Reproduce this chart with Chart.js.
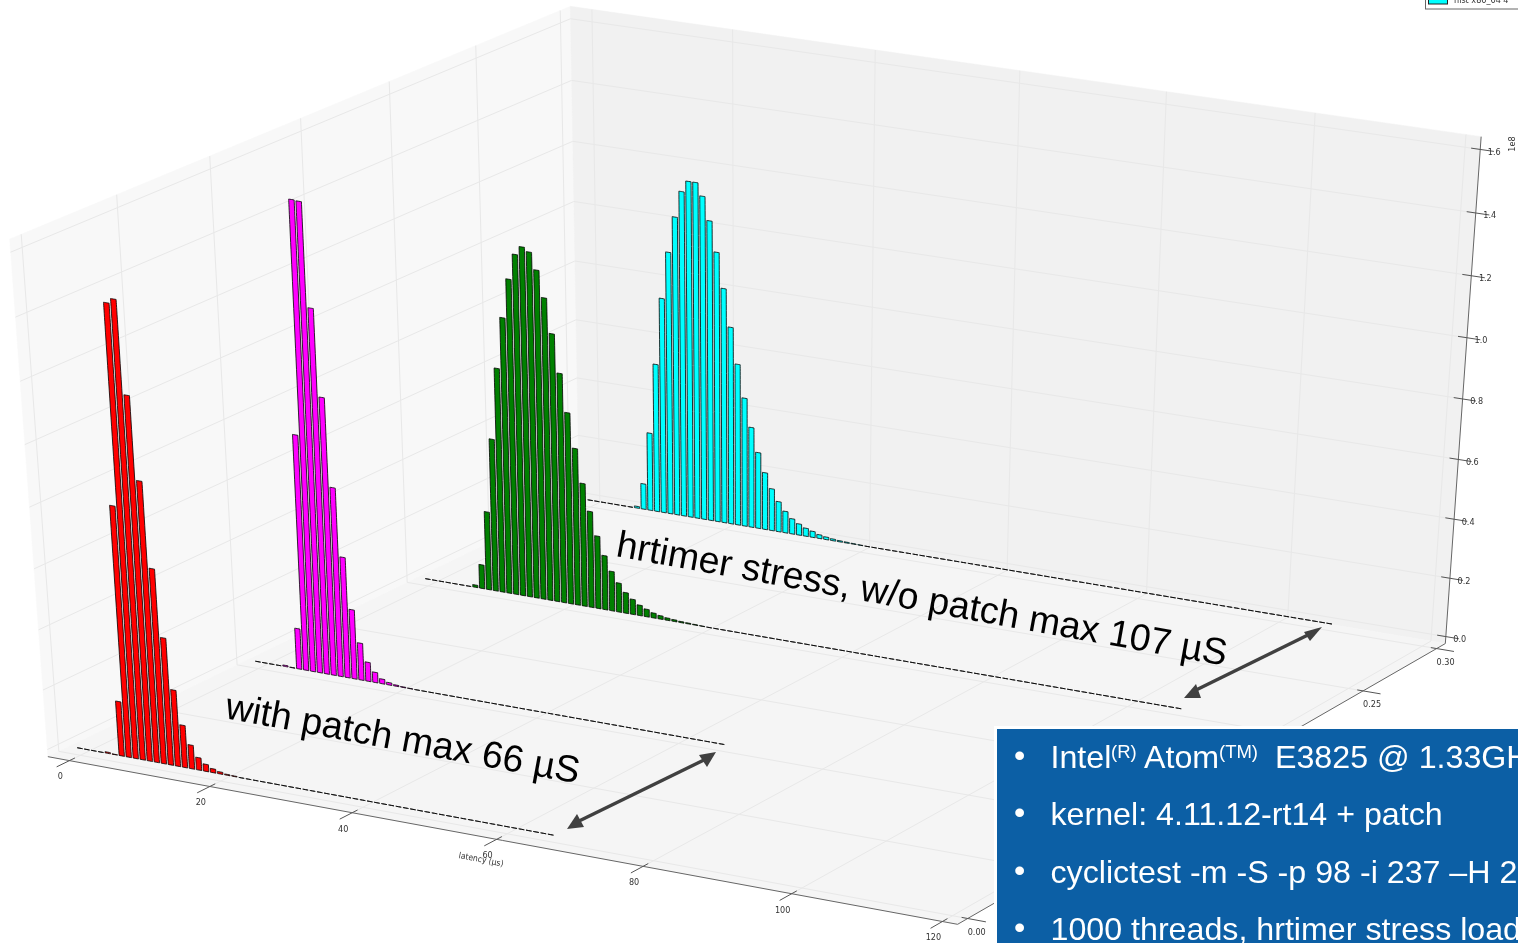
<!DOCTYPE html>
<html><head><meta charset="utf-8">
<style>html,body{margin:0;padding:0;background:#fff;overflow:hidden}canvas{display:block;filter:blur(0.35px)}</style>
<script src="https://cdn.jsdelivr.net/npm/chart.js@4/dist/chart.umd.min.js"></script>
</head><body><canvas id="c" width="1518" height="943"></canvas>
<script>
// values in units of 1e8 counts, index = latency in microseconds
const redValues = [0,0,0,0,.004,.001,.183,.828,1.47,1.485,1.19,.923,.645,.423,.255,.142,.08,.042,.024,.013,.007,.003,.002,
 0,0,0,0,0,0,0,0,0,0,0,0,0,0,0,0,0,0,0,0,0,0,0,0,0,0,0,0,0,0,0,0,0,0,0,0,0,0,0,0,0,0,0,0];
const magentaValues = [0,0,0,0,.004,.001,.138,.788,1.543,1.541,1.208,.925,.634,.407,.235,.126,.065,.035,.016,.008,.004,.002,.001,
 0,0,0,0,0,0,0,0,0,0,0,0,0,0,0,0,0,0,0,0,0,0,0,0,0,0,0,0,0,0,0,0,0,0,0,0,0,0,0,0,0,0,0,0];
const greenValues = [0,0,0,0,0,0,0,.008,.082,.268,.519,.76,.931,1.061,1.145,1.173,1.16,1.105,1.018,.904,.777,.65,.534,.42,.329,.249,.186,.136,.1,.071,.052,.036,.026,.017,.012,.008,.006,.004,.003,.002,.001,
 0,0,0,0,0,0,0,0,0,0,0,0,0,0,0,0,0,0,0,0,0,0,0,0,0,0,0,0,0,0,0,0,0,0,0,0,0,0,0,0,0,0,0,0,0,0,0,0,0,0,0,0,0,0,0,0,0,0,0,0,0,0,0,0,0,0,0];
const cyanValues = [0,0,0,0,0,0,0,.006,.089,.27,.511,.739,.898,1.019,1.107,1.144,1.144,1.102,1.024,.923,.805,.678,.556,.444,.347,.264,.198,.146,.105,.075,.053,.039,.028,.021,.013,.009,.006,.004,.003,.002,.001,
 0,0,0,0,0,0,0,0,0,0,0,0,0,0,0,0,0,0,0,0,0,0,0,0,0,0,0,0,0,0,0,0,0,0,0,0,0,0,0,0,0,0,0,0,0,0,0,0,0,0,0,0,0,0,0,0,0,0,0,0,0,0,0,0,0,0,0];
const latencyTicks = [0,20,40,60,80,100,120];
const depthTicks = [0,.05,.1,.15,.2,.25,.3];
const countTicks = [0,.2,.4,.6,.8,1,1.2,1.4,1.6];
const seriesDepths = [.3,.2,.1,0];
const seriesColors = ['#00ffff','#008000','#ff00ff','#ff0000'];
const seriesValues = [cyanValues,greenValues,magentaValues,redValues];
const xLim=[-3.1,122], yLim=[-.006,.306], zLim=[-.024,1.64];
const barHalfWidth=.38;

// camera calibrated on the corners of the axes box: [u,v,w, pixelX,pixelY]
const boxCorners=[[0,0,0,49,758],[1,0,0,957,924],[1,1,0,1446,643.5],[0,1,0,578,498],[0,0,1,9,238],[0,1,1,571,7],[1,1,1,1481,137]];
function fitCamera(){
  const A=[],b=[];
  for(const [u,v,w,X0,Y0] of boxCorners){const X=X0/1000,Y=Y0/1000;
    A.push([u,v,w,1,0,0,0,0,-X*u,-X*v,-X*w]);b.push(X);
    A.push([0,0,0,0,u,v,w,1,-Y*u,-Y*v,-Y*w]);b.push(Y);}
  const n=11,M=[];
  for(let i=0;i<n;i++){M.push(new Array(n+1).fill(0));
    for(let j=0;j<n;j++)for(let r=0;r<A.length;r++)M[i][j]+=A[r][i]*A[r][j];
    for(let r=0;r<A.length;r++)M[i][n]+=A[r][i]*b[r];
    M[i][i]+=1e-10;}
  for(let i=0;i<n;i++){let p=i;for(let r=i+1;r<n;r++)if(Math.abs(M[r][i])>Math.abs(M[p][i]))p=r;
    [M[i],M[p]]=[M[p],M[i]];
    for(let r=0;r<n;r++)if(r!==i){const f=M[r][i]/M[i][i];for(let c=i;c<=n;c++)M[r][c]-=f*M[i][c];}}
  return M.map((r,i)=>r[n]/r[i]);
}
const cam=fitCamera();
function project(x,y,z){
  const u=(x-xLim[0])/(xLim[1]-xLim[0]),v=(y-yLim[0])/(yLim[1]-yLim[0]),w=(z-zLim[0])/(zLim[1]-zLim[0]);
  const d=cam[8]*u+cam[9]*v+cam[10]*w+1;
  return {x:1000*(cam[0]*u+cam[1]*v+cam[2]*w+cam[3])/d,y:1000*(cam[4]*u+cam[5]*v+cam[6]*w+cam[7])/d};
}
// a tiny tension keeps Chart.js from merging nearly vertical points into one pixel column
const poly=(pts,fillC,stroke,width)=>({data:[...pts,pts[0]],polyFill:fillC,showLine:true,borderColor:stroke,borderWidth:width,pointRadius:0,borderJoinStyle:'miter',tension:1e-6});
const seg=(a,b,stroke,width)=>({data:[a,b],showLine:true,borderColor:stroke,borderWidth:width,pointRadius:0,tension:0});
const ds=[];
const [x0,x1]=xLim,[y0,y1]=yLim,[z0,z1]=zLim;
// panes
ds.push(poly([project(x0,y0,z0),project(x0,y1,z0),project(x0,y1,z1),project(x0,y0,z1)],'#f8f8f8','#f8f8f8',.5));
ds.push(poly([project(x0,y1,z0),project(x1,y1,z0),project(x1,y1,z1),project(x0,y1,z1)],'#f1f1f1','#f1f1f1',.5));
ds.push(poly([project(x0,y0,z0),project(x1,y0,z0),project(x1,y1,z0),project(x0,y1,z0)],'#f5f5f5','#f5f5f5',.5));
const gridC='#e8e8e8';
for(const t of latencyTicks){ds.push(seg(project(t,y0,z0),project(t,y1,z0),gridC,1));ds.push(seg(project(t,y1,z0),project(t,y1,z1),gridC,1));}
for(const t of depthTicks){ds.push(seg(project(x1,t,z0),project(x0,t,z0),gridC,1));ds.push(seg(project(x0,t,z0),project(x0,t,z1),gridC,1));}
for(const t of countTicks){ds.push(seg(project(x0,y0,t),project(x0,y1,t),gridC,1));ds.push(seg(project(x0,y1,t),project(x1,y1,t),gridC,1));}
// axis lines and tick marks
const axC='#666666';
ds.push(seg(project(x0,y0,z0),project(x1,y0,z0),axC,1));
ds.push(seg(project(x1,y0,z0),project(x1,y1,z0),axC,1));
ds.push(seg(project(x1,y1,z0),project(x1,y1,z1),axC,1));
const tkC='#555555';
for(const t of latencyTicks)ds.push(seg(project(t,y0+.003,z0),project(t,y0-.007,z0),tkC,1));
for(const t of depthTicks)ds.push(seg(project(x1-.8,t,z0),project(x1+2.4,t,z0),tkC,1));
for(const t of countTicks)ds.push(seg(project(x1-1.2,y1,t),project(x1+1.8,y1,t),tkC,1));
// histogram bars, far series first
seriesValues.forEach((vals,s)=>{const y=seriesDepths[s];
  vals.forEach((v,k)=>{ds.push(poly([project(k-barHalfWidth,y,0),project(k+barHalfWidth,y,0),project(k+barHalfWidth,y,v),project(k-barHalfWidth,y,v)],seriesColors[s],'#000000',.8));});
});
ds.forEach((d,i)=>{d.order=ds.length-i;});

const fillPlugin={id:'polyFill',beforeDatasetDraw(chart,args){
  const d=chart.data.datasets[args.index];if(!d.polyFill)return;
  const pts=chart.getDatasetMeta(args.index).data,ctx=chart.ctx;
  ctx.save();ctx.beginPath();pts.forEach((p,i)=>i?ctx.lineTo(p.x,p.y):ctx.moveTo(p.x,p.y));ctx.closePath();
  ctx.fillStyle=d.polyFill;ctx.fill();ctx.restore();
}};
function arrow(ctx,a,b,c,d){ // shaft a-b, triangles c and d at ends
  ctx.strokeStyle='#404040';ctx.fillStyle='#404040';ctx.lineWidth=3.5;
  ctx.beginPath();ctx.moveTo(a[0],a[1]);ctx.lineTo(b[0],b[1]);ctx.stroke();
  for(const tri of [c,d]){ctx.beginPath();ctx.moveTo(tri[0][0],tri[0][1]);ctx.lineTo(tri[1][0],tri[1][1]);ctx.lineTo(tri[2][0],tri[2][1]);ctx.closePath();ctx.fill();}
}
function label(ctx,txt,x,y,font,color,rot){ctx.save();ctx.translate(x,y);ctx.rotate(rot||0);ctx.font=font;ctx.fillStyle=color;ctx.fillText(txt,0,0);ctx.restore();}
const overlay={id:'overlay',afterDraw(chart){
  const ctx=chart.ctx;ctx.save();
  const sx=chart.scales.x,sy=chart.scales.y;
  const tf='9px "DejaVu Sans Condensed","DejaVu Sans"',tc='#333333';
  ctx.textAlign='center';ctx.textBaseline='middle';
  for(const t of latencyTicks){const p=project(t,y0,z0);label(ctx,String(t),sx.getPixelForValue(p.x)-9,sy.getPixelForValue(p.y)+16.5,tf,tc);}
  for(const t of depthTicks){const p=project(x1,t,z0);label(ctx,t.toFixed(2),sx.getPixelForValue(p.x)+9,sy.getPixelForValue(p.y)+14,tf,tc);}
  for(const t of countTicks){const p=project(x1,y1,t);label(ctx,t.toFixed(1),sx.getPixelForValue(p.x)+14,sy.getPixelForValue(p.y)+3,tf,tc);}
  label(ctx,'1e8',1513,144,tf,tc,-Math.PI/2);
  label(ctx,'latency (μs)',481,860,'8.5px "DejaVu Sans Condensed","DejaVu Sans"',tc,.19);
  // clipped legend
  ctx.fillStyle='#fff';ctx.strokeStyle='#666';ctx.lineWidth=1;ctx.fillRect(1425,-5,100,14);ctx.strokeRect(1425.5,-5,100,14);
  ctx.fillStyle='#00ffff';ctx.strokeStyle='#222';ctx.fillRect(1428,-5,19,9);ctx.strokeRect(1428.5,-5,19,9);
  ctx.textAlign='left';
  label(ctx,'hist x86_64 4',1454,1,tf,tc);
  // annotations
  ctx.textBaseline='alphabetic';
  label(ctx,'with patch max 66 µS',224,718,'37.5px "Liberation Sans"','#000',.183);
  label(ctx,'hrtimer stress, w/o patch max 107 µS',615,556,'37.5px "Liberation Sans"','#000',.178);
  arrow(ctx,[575,823],[708,758],[[567,829],[584,827],[577,814]],[[716,752],[699,755],[707,767]]);
  arrow(ctx,[1192,692],[1314,632],[[1184,698],[1201,698],[1196,684]],[[1322,627],[1304,632],[1310,641]]);
  // info box
  ctx.fillStyle='#fff';ctx.fillRect(994,726,530,220);
  ctx.fillStyle='#0c5fa5';ctx.fillRect(997,729,525,216);
  const big='32.2px "Liberation Sans"',small='18.5px "Liberation Sans"',w='#fff';
  const bl=[768,825,883,940];
  bl.forEach(y=>label(ctx,'•',1014,y-2,big,w));
  for(const [t,px,f,dy] of [['Intel',1050.5,big,0],['(R)',1111,small,-10],['Atom',1144,big,0],['(TM)',1219,small,-10],['E3825 @ 1.33GHz',1275,big,0]]){
    label(ctx,t,px,768+dy,f,w);}
  label(ctx,'kernel: 4.11.12-rt14 + patch',1050.5,825,big,w);
  label(ctx,'cyclictest -m -S -p 98 -i 237 –H 20000',1050.5,883,big,w);
  label(ctx,'1000 threads, hrtimer stress load',1050.5,940,big,w);
  ctx.restore();
}};
new Chart(document.getElementById('c'),{type:'scatter',data:{datasets:ds},plugins:[fillPlugin,overlay],options:{
  responsive:false,animation:false,events:[],layout:{padding:0},
  plugins:{legend:{display:false},tooltip:{enabled:false}},
  scales:{x:{type:'linear',display:false,min:0,max:1518},y:{type:'linear',display:false,min:0,max:943,reverse:true}}
}});
</script></body></html>
